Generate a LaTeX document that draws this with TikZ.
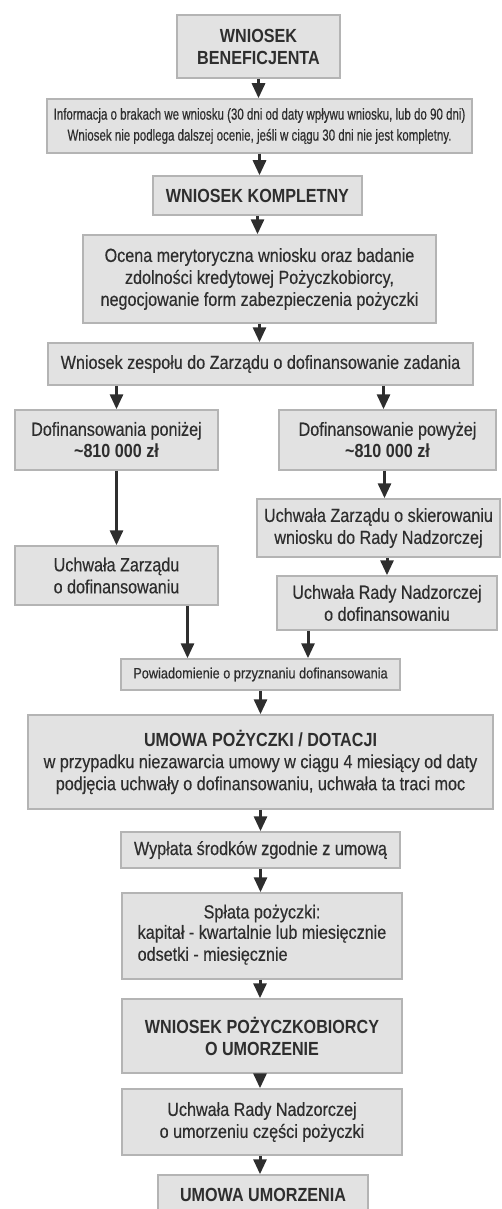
\documentclass[tikz,border=0pt]{standalone}
\usepackage{fontspec}
\setmainfont{Liberation Sans}[FakeStretch=0.85, UprightFeatures={FakeBold=0.4}]
\newfontfamily\narrowfont{Liberation Sans}[FakeStretch=0.72, UprightFeatures={FakeBold=0.4}]
\usepackage{tikz}
\usetikzlibrary{arrows.meta}

\definecolor{boxfill}{HTML}{E2E2E2}
\definecolor{boxline}{HTML}{B4B4B4}
\definecolor{ink}{HTML}{2E2E2E}

\tikzset{
    stage/.style={draw=boxline, fill=boxfill, line width=1.5pt, align=center,
        inner sep=0pt, text=ink, font=\fontsize{19}{22}\selectfont},
    arr/.style={-{Triangle[length=15pt,width=13pt]}, line width=3pt, draw=ink}
}

\begin{document}
\begin{tikzpicture}[x=1pt, y=-1pt]
    \useasboundingbox (0,0) rectangle (502,1209);

    % Draw the main column
    \node[stage, minimum width=163, minimum height=63] (benef) at (258.5,46.5) {\textbf{WNIOSEK}\\\textbf{BENEFICJENTA}};
    \node[stage, minimum width=425, minimum height=54, font=\narrowfont\fontsize{16}{21}\selectfont] (info) at (259.5,126)
        {Informacja o brakach we wniosku (30 dni od daty wpływu wniosku, lub do 90 dni)\\Wniosek nie podlega dalszej ocenie, jeśli w ciągu 30 dni nie jest kompletny.};
    \node[stage, minimum width=209, minimum height=39] (kompl) at (257.5,195.5) {\textbf{WNIOSEK KOMPLETNY}};
    \node[stage, minimum width=353, minimum height=88] (ocena) at (259.5,279)
        {Ocena merytoryczna wniosku oraz badanie\\zdolności kredytowej Pożyczkobiorcy,\\negocjowanie form zabezpieczenia pożyczki};
    \node[stage, minimum width=425, minimum height=42] (zesp) at (260.5,364) {Wniosek zespołu do Zarządu o dofinansowanie zadania};

    % Draw the two branches
    \node[stage, minimum width=203, minimum height=60] (ponizej) at (116.5,440) {Dofinansowania poniżej\\\textbf{\textasciitilde810 000 zł}};
    \node[stage, minimum width=217, minimum height=60] (powyzej) at (387.5,440) {Dofinansowanie powyżej\\\textbf{\textasciitilde810 000 zł}};
    \node[stage, minimum width=203, minimum height=59] (uchwL) at (116.5,575.5) {Uchwała Zarządu\\o dofinansowaniu};
    \node[stage, minimum width=243, minimum height=58] (skier) at (378.5,528) {Uchwała Zarządu o skierowaniu\\wniosku do Rady Nadzorczej};
    \node[stage, minimum width=220, minimum height=54] (radaDof) at (387,603) {Uchwała Rady Nadzorczej\\o dofinansowaniu};

    % Draw the lower column
    \node[stage, minimum width=279, minimum height=31, font=\fontsize{15}{18}\selectfont] (powiad) at (260.5,674.5) {Powiadomienie o przyznaniu dofinansowania};
    \node[stage, minimum width=465, minimum height=94] (umowa) at (260.5,762)
        {\textbf{UMOWA POŻYCZKI / DOTACJI}\\w przypadku niezawarcia umowy w ciągu 4 miesiący od daty\\podjęcia uchwały o dofinansowaniu, uchwała ta traci moc};
    \node[stage, minimum width=279, minimum height=36] (wyplata) at (260.5,850) {Wypłata środków zgodnie z umową};
    \node[stage, minimum width=280, minimum height=86] (splata) at (262,936)
        {Spłata pożyczki:\\\begin{tabular}{@{}l@{}}kapitał - kwartalnie lub miesięcznie\\odsetki - miesięcznie\end{tabular}};
    \node[stage, minimum width=280, minimum height=74] (wniosekPoz) at (262,1036) {\textbf{WNIOSEK POŻYCZKOBIORCY}\\\textbf{O UMORZENIE}};
    \node[stage, minimum width=280, minimum height=66] (radaUm) at (262,1122) {Uchwała Rady Nadzorczej\\o umorzeniu części pożyczki};
    \node[stage, minimum width=210, minimum height=40] (umowaUm) at (263,1195) {\textbf{UMOWA UMORZENIA}};

    % Draw the arrows
    \draw[arr] (benef.south) -- (benef.south |- info.north);
    \draw[arr] (info.south) -- (info.south |- kompl.north);
    \draw[arr] (kompl.south) -- (kompl.south |- ocena.north);
    \draw[arr] (ocena.south) -- (ocena.south |- zesp.north);
    \draw[arr] (ponizej.north |- zesp.south) -- (ponizej.north);
    \draw[arr] ([xshift=-4pt]powyzej.north |- zesp.south) -- ([xshift=-4pt]powyzej.north);
    \draw[arr] (ponizej.south) -- (ponizej.south |- uchwL.north);
    \draw[arr] ([xshift=-3pt]powyzej.south) -- ([xshift=-3pt]powyzej.south |- skier.north);
    \draw[arr] (radaDof.north |- skier.south) -- (radaDof.north);
    \draw[arr] ([xshift=71pt]uchwL.south) -- ([xshift=71pt]uchwL.south |- powiad.north);
    \draw[arr] ([xshift=-79pt]radaDof.south) -- ([xshift=-79pt]radaDof.south |- powiad.north);
    \draw[arr] (powiad.south) -- (powiad.south |- umowa.north);
    \draw[arr] (umowa.south) -- (umowa.south |- wyplata.north);
    \draw[arr] (wyplata.south) -- (wyplata.south |- splata.north);
    \draw[arr] ([xshift=-2pt]splata.south) -- ([xshift=-2pt]splata.south |- wniosekPoz.north);
    \draw[arr] ([xshift=-2pt]wniosekPoz.south) -- ([xshift=-2pt]wniosekPoz.south |- radaUm.north);
    \draw[arr] ([xshift=-2pt]radaUm.south) -- ([xshift=-2pt]radaUm.south |- umowaUm.north);

\end{tikzpicture}
\end{document}
